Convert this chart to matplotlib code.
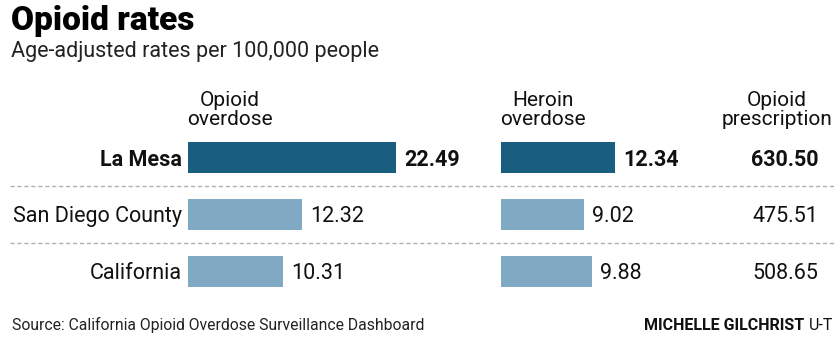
import matplotlib.pyplot as plt
from matplotlib.lines import Line2D

# data
places = ["La Mesa", "San Diego County", "California"]
opioid_overdose = [22.49, 12.32, 10.31]
heroin_overdose = [12.34, 9.02, 9.88]
opioid_prescription = [630.50, 475.51, 508.65]
headers = ["Opioid\noverdose", "Heroin\noverdose", "Opioid\nprescription"]

W, H = 840, 339
DARK = "#1a5e7f"
LIGHT = "#80aac4"
PX_PER_UNIT = 9.25  # bar length scale, same for both bar columns

plt.rcParams["font.family"] = ["Roboto", "DejaVu Sans"]

fig = plt.figure(figsize=(W / 100, H / 100), dpi=100)


def fx(x):
    return x / W


def fy(y):
    # y measured from the top in pixels
    return 1 - y / H


row_y = [157, 214, 271]
bar_h = 31
row_step = 57


def bar_axes(left_px, width_px):
    top = row_y[0] - row_step / 2
    bottom = row_y[-1] + row_step / 2
    ax = fig.add_axes([fx(left_px), fy(bottom), width_px / W, (bottom - top) / H])
    ax.set_xlim(0, width_px / PX_PER_UNIT)
    ax.set_ylim(len(places) - 0.5, -0.5)
    ax.axis("off")
    return ax


colors = [DARK, LIGHT, LIGHT]
ax1 = bar_axes(188, 260)
ax1.barh(range(len(places)), opioid_overdose, height=bar_h / row_step, color=colors)
ax2 = bar_axes(501, 160)
ax2.barh(range(len(places)), heroin_overdose, height=bar_h / row_step, color=colors)

FS = 15.5
# text nudged down a bit so it sits on the bar centre like the original
dy = 2.5 / row_step
for i in range(len(places)):
    w = "bold" if i == 0 else "normal"
    ax1.text(opioid_overdose[i] + 8 / PX_PER_UNIT, i + dy, f"{opioid_overdose[i]:.2f}",
             va="center", ha="left", fontsize=FS, fontweight=w, color="#111111")
    ax2.text(heroin_overdose[i] + 8 / PX_PER_UNIT, i + dy, f"{heroin_overdose[i]:.2f}",
             va="center", ha="left", fontsize=FS, fontweight=w, color="#111111")
    fig.text(fx(182), fy(row_y[i] + 2.5), places[i], ha="right", va="center",
             fontsize=FS, fontweight=w, color="#111111")
    fig.text(fx(818), fy(row_y[i] + 2.5), f"{opioid_prescription[i]:.2f}", ha="right",
             va="center", fontsize=FS, fontweight=w, color="#111111")

# dashed separators
for y in [186, 243]:
    fig.add_artist(Line2D([fx(10), fx(836)], [fy(y), fy(y)], transform=fig.transFigure,
                          color="#b0b0b0", lw=1, ls=(0, (3, 2))))

# column headers
for x, txt in zip([230, 543, 777], headers):
    fig.text(fx(x), fy(110), txt, ha="center", va="center", fontsize=15,
             linespacing=1.0, color="#111111")

fig.text(fx(11), fy(21), "Opioid rates", ha="left", va="center", fontsize=24,
         fontweight="black", color="#000000")
fig.text(fx(11), fy(51), "Age-adjusted rates per 100,000 people", ha="left",
         va="center", fontsize=15.5, color="#222222")

fig.text(fx(12), fy(325), "Source: California Opioid Overdose Surveillance Dashboard",
         ha="left", va="center", fontsize=11.3, color="#222222")
ut = fig.text(fx(833), fy(325), "U-T", ha="right", va="center", fontsize=11.5, color="#111111")
renderer = fig.canvas.get_renderer()
x0 = ut.get_window_extent(renderer).x0
fig.text((x0 - 4) / W, fy(325), "MICHELLE GILCHRIST", ha="right", va="center",
         fontsize=11.5, fontweight="bold", color="#111111")

fig.savefig("out.png", dpi=100)
